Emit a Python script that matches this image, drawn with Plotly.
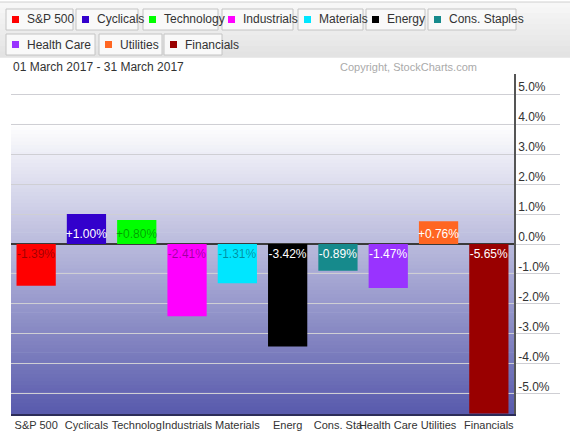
import plotly.graph_objects as go

# ---------------- data ----------------
categories = ["S&P 500", "Cyclicals", "Technology", "Industrials", "Materials",
              "Energy", "Cons. Staples", "Health Care", "Utilities", "Financials"]
axis_labels = ["S&P 500", "Cyclicals", "Technolog", "Industrials", "Materials",
               "Energ", "Cons. Sta", "Health Care", "Utilities", "Financials"]
returns = [-1.39, 1.00, 0.80, -2.41, -1.31, -3.42, -0.89, -1.47, 0.76, -5.65]
bar_colors = ["#ff0000", "#3300cc", "#00ff00", "#ff00ff", "#00e6ff",
              "#000000", "#168a8c", "#9933ff", "#ff6622", "#990000"]
text_colors = ["rgba(0,0,0,0.38)", "#ffffff", "rgba(0,0,0,0.38)", "rgba(0,0,0,0.38)",
               "rgba(0,0,0,0.38)", "#ffffff", "#ffffff", "#ffffff", "#ffffff", "#ffffff"]
tick_vals = [5, 4, 3, 2, 1, 0, -1, -2, -3, -4, -5]
tick_labels = ["5.0%", "4.0%", "3.0%", "2.0%", "1.0%", "0.0%",
               "-1.0%", "-2.0%", "-3.0%", "-4.0%", "-5.0%"]
date_range = "01 March 2017 - 31 March 2017"
copyright_text = "Copyright, StockCharts.com"

# legend button layout (pixel boxes) row, left, right
legend_rows = [0, 0, 0, 0, 0, 0, 0, 1, 1, 1]
legend_left = [6, 76, 143, 222, 298, 366, 428, 6, 99, 164]
legend_right = [73, 138, 218, 293, 363, 425, 516, 95, 162, 222]

# ---------------- geometry ----------------
W, H = 570, 439
PL, PR, PT, PB = 11, 514, 74, 414
FONT = "Liberation Sans, Arial, sans-serif"


def px2x(px):
    return (px - PL) / (PR - PL)


def px2y(py):
    return (PB - py) / (PB - PT)


fig = go.Figure()
fig.add_trace(go.Bar(
    x=categories, y=returns,
    marker=dict(color=bar_colors, line=dict(width=0)),
    width=0.78,
    text=[f"{v:+.2f}%" for v in returns],
    textposition="inside", insidetextanchor="start", textangle=0,
    constraintext="none",
    textfont=dict(family=FONT, size=12, color=text_colors),
    hoverinfo="skip", showlegend=False,
))

shapes = []
# plot background gradient (white at 4% level down to blue-violet at bottom)
g_top = px2y(123)
N = 80
c0 = (255, 255, 255)
c1 = (88, 90, 172)
for i in range(N):
    f = (i + 0.5) / N
    col = tuple(round(c0[k] + (c1[k] - c0[k]) * f) for k in range(3))
    y1 = g_top - g_top * i / N
    y0 = g_top - g_top * (i + 1) / N
    shapes.append(dict(type="rect", xref="paper", yref="paper", x0=0, x1=1,
                       y0=y0 - 0.002, y1=y1, fillcolor="rgb(%d,%d,%d)" % col,
                       line=dict(width=0), layer="below"))

# header band
hb_top, hb_bot = 2, 57
M = 10
for i in range(M):
    f = (i + 0.5) / M
    v = round(248 - (248 - 226) * f)
    ya = hb_top + (hb_bot - hb_top) * i / M
    yb = hb_top + (hb_bot - hb_top) * (i + 1) / M
    shapes.append(dict(type="rect", xref="paper", yref="paper",
                       x0=px2x(0), x1=px2x(W), y0=px2y(yb) - 0.002, y1=px2y(ya),
                       fillcolor="rgb(%d,%d,%d)" % (v, v, v), line=dict(width=0),
                       layer="above"))
shapes.append(dict(type="line", xref="paper", yref="paper", x0=px2x(0), x1=px2x(W),
                   y0=px2y(2), y1=px2y(2), line=dict(color="#d0d0d0", width=1)))

annotations = []
row_top = [9, 34]
row_bot = [30, 55]
for i, name in enumerate(categories):
    r = legend_rows[i]
    l, rt = legend_left[i], legend_right[i]
    t, b = row_top[r], row_bot[r]
    shapes.append(dict(type="rect", xref="paper", yref="paper",
                       x0=px2x(l), x1=px2x(rt), y0=px2y(b), y1=px2y(t),
                       fillcolor="#f9f9f9", line=dict(color="#c4c4c4", width=1)))
    cy = (t + b) / 2
    shapes.append(dict(type="rect", xref="paper", yref="paper",
                       x0=px2x(l + 6), x1=px2x(l + 13), y0=px2y(cy + 3.5), y1=px2y(cy - 3.5),
                       fillcolor=bar_colors[i], line=dict(width=0)))
    annotations.append(dict(xref="paper", yref="paper", x=px2x(l + 19), y=px2y(cy),
                            xanchor="left", yanchor="middle", showarrow=False,
                            text=name, font=dict(family=FONT, size=12, color="#333333")))

annotations.append(dict(xref="paper", yref="paper", x=px2x(11), y=px2y(67),
                        xanchor="left", yanchor="middle", showarrow=False,
                        text=date_range, font=dict(family=FONT, size=12, color="#333333")))
annotations.append(dict(xref="paper", yref="paper", x=px2x(338), y=px2y(67),
                        xanchor="left", yanchor="middle", showarrow=False,
                        text=copyright_text, font=dict(family=FONT, size=11, color="#aaaaaa")))

fig.update_layout(
    width=W, height=H,
    margin=dict(l=PL, r=W - PR, t=PT, b=H - PB, pad=0, autoexpand=False),
    paper_bgcolor="white", plot_bgcolor="rgba(0,0,0,0)",
    shapes=shapes, annotations=annotations,
    font=dict(family=FONT, color="#333333"),
    xaxis=dict(
        type="category", categoryorder="array", categoryarray=categories,
        tickmode="array", tickvals=categories, ticktext=axis_labels,
        tickangle=0, automargin=False,
        tickfont=dict(family=FONT, size=11, color="#333333"),
        showgrid=False, ticks="", showline=True, linecolor="#2c2c58", linewidth=1.5,
        range=[-0.5, 9.5], fixedrange=True,
    ),
    yaxis=dict(
        side="right", range=[-5.67, 5.67], automargin=False,
        tickmode="array", tickvals=tick_vals, ticktext=tick_labels,
        tickfont=dict(family=FONT, size=12, color="#333333"),
        showgrid=True, gridcolor="#cfcfd4", gridwidth=1,
        ticks="outside", ticklen=44, tickcolor="#cfcfd4", tickwidth=1,
        ticklabelstandoff=-44, ticklabelshift=-7,
        showline=True, linecolor="#555555", linewidth=1.5,
        zeroline=True, zerolinecolor="#3a3a3a", zerolinewidth=1.5,
        fixedrange=True,
    ),
)

fig.write_html("out.html", config={"displayModeBar": False},
               post_script="document.body.style.margin='0';document.body.style.overflow='hidden';")
